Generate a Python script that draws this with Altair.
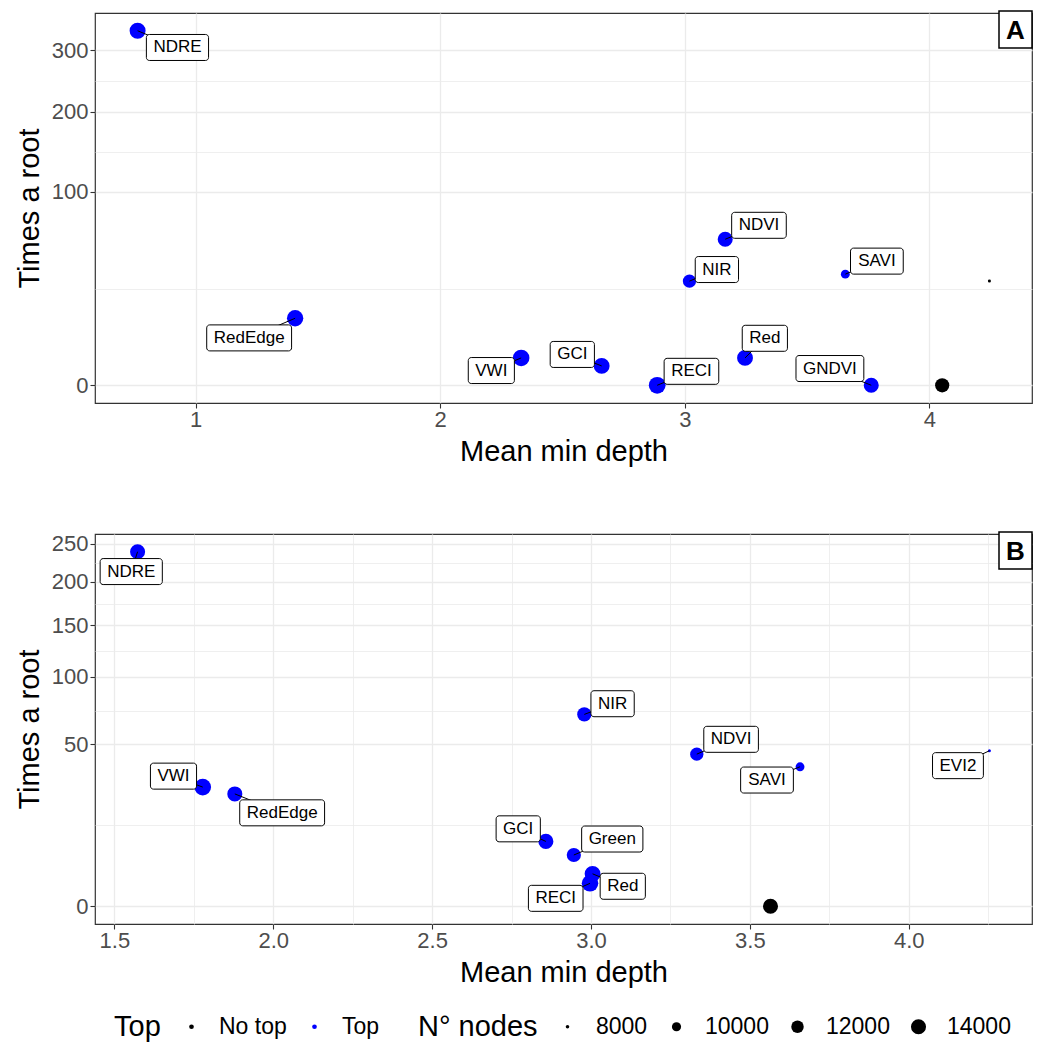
import math
import altair as alt
import pandas as pd

FONT = "Liberation Sans"

# ---------------- Panel A data ----------------
A_name = ["NDRE", "RedEdge", "VWI", "GCI", "RECI", "NIR", "NDVI", "Red", "SAVI", "GNDVI", "", ""]
A_depth = [0.763, 1.407, 2.331, 2.660, 2.887, 3.019, 3.165, 3.246, 3.656, 3.762, 4.052, 4.245]
A_root = [336, 12, 2, 1, 0, 29, 57, 2, 33, 0, 0, 29]
A_top = ["Top"] * 10 + ["No top"] * 2
A_nodes = [14800, 15100, 15300, 14700, 15500, 12600, 14000, 14700, 9850, 14000, 13300, 7900]
# label box centres (data units)
A_lab_x = [0.926, 1.219, 2.209, 2.540, 3.027, 3.131, 3.303, 3.327, 3.785, 3.593]
A_lab_y = [305, 6.0, 0.58, 2.54, 0.52, 35.8, 68.4, 5.9, 41.2, 0.75]

# ---------------- Panel B data ----------------
B_name = ["NDRE", "VWI", "RedEdge", "GCI", "Green", "NIR", "Red", "RECI", "NDVI", "SAVI", "EVI2", ""]
B_depth = [1.573, 1.778, 1.879, 2.858, 2.946, 2.979, 3.005, 2.997, 3.333, 3.658, 4.254, 3.565]
B_root = [239, 27, 24, 8, 5, 70, 2, 1, 44, 37, 46, 0]
B_top = ["Top"] * 11 + ["No top"]
B_nodes = [14000, 15500, 14000, 14000, 13300, 13300, 14700, 15300, 12600, 9850, 7900, 14000]
B_lab_x = [1.553, 1.686, 2.028, 2.771, 3.067, 3.068, 3.100, 2.889, 3.441, 3.554, 4.155]
B_lab_y = [213, 32.2, 16.6, 11.4, 8.6, 78, 0.76, 0.12, 53, 30.3, 37.6]

# axis breaks
A_xmajor = [1, 2, 3, 4]
A_ymajor = [0, 100, 200, 300]
B_xmajor = [1.5, 2.0, 2.5, 3.0, 3.5, 4.0]
B_ymajor = [0, 50, 100, 150, 200, 250]

size_breaks = [8000, 10000, 12000, 14000]

# Arial / Liberation Sans advance widths (1/1000 em) for box sizing
ADV = {'N': 722, 'D': 722, 'R': 722, 'E': 667, 'V': 667, 'I': 278, 'W': 944, 'G': 778,
       'C': 722, 'S': 667, 'A': 667, 'e': 556, 'd': 556, 'g': 556, 'r': 333, 'n': 556, '2': 556}
LAB_FS = 17


def text_w(s, fs=LAB_FS):
    return sum(ADV.get(c, 556) for c in s) * fs / 1000.0


def expand(lo, hi, f=0.05):
    r = hi - lo
    return [lo - f * r, hi + f * r]


def sqrt_expand(vals):
    s = [math.sqrt(v) for v in vals]
    lo, hi = expand(min(s), max(s))
    sq = lambda t: t * t if t >= 0 else -t * t
    return [sq(lo), sq(hi)]


def minor_breaks(major, lo, hi, tr=lambda v: v, inv=lambda v: v):
    t = [tr(v) for v in major]
    bd = t[1] - t[0]
    ext = [t[0] - bd] + t + [t[-1] + bd]
    mids = [(ext[i] + ext[i + 1]) / 2 for i in range(len(ext) - 1)]
    out = []
    for m in mids:
        if m < 0:
            continue
        v = inv(m)
        if lo <= v <= hi:
            out.append(round(v, 4))
    return out


def panel(names, depth, root, top, nodes, lx, ly, xmaj, ymaj, xfmt, letter):
    df = pd.DataFrame({"name": names, "depth": depth, "root": root, "top": top, "nodes": nodes})
    lab = df[df["name"] != ""].copy().reset_index(drop=True)
    lab["lx"] = lx
    lab["ly"] = ly
    lab["bw"] = [text_w(s) + 14 for s in lab["name"]]

    xdom = expand(min(depth), max(depth))
    ydom = sqrt_expand(root)
    xmin_ = minor_breaks(xmaj, xdom[0], xdom[1])
    ymin_ = minor_breaks(ymaj, ydom[0], ydom[1], math.sqrt, lambda t: t * t)

    def cond_axis(major, minor, fmt, title):
        test = "indexof(%s, datum.value) < 0" % str(list(major))
        return alt.Axis(
            values=sorted(major + minor),
            format=fmt,
            labelExpr="indexof(%s, datum.value) >= 0 ? datum.label : ''" % str(list(major)),
            tickOpacity={"condition": {"test": test, "value": 0}, "value": 1},
            gridWidth={"condition": {"test": test, "value": 0.8}, "value": 1.3},
            title=title,
            labelFlush=False,
            labelOverlap=False,
        )

    xs = alt.Scale(domain=xdom, nice=False, zero=False)
    ys = alt.Scale(type="sqrt", domain=ydom, nice=False, zero=False)

    x_axis = cond_axis(xmaj, xmin_, xfmt, "Mean min depth")
    y_axis = cond_axis(ymaj, ymin_, "d", "Times a root")

    color = alt.Color(
        "top:N",
        scale=alt.Scale(domain=["No top", "Top"], range=["black", "#0000FF"]),
        legend=alt.Legend(title="Top", orient="none", direction="horizontal", titleOrient="left",
                          legendX=19, legendY=1002, symbolSize=22, symbolType="circle",
                          labelOffset=16, columnPadding=16, titlePadding=19,
                          symbolStrokeWidth=0),
    )
    size = alt.Size(
        "nodes:Q",
        scale=alt.Scale(domain=[8000, 14000], range=[math.pi * 16 / 4, math.pi * 289 / 4], zero=False),
        legend=alt.Legend(title="N° nodes", orient="none", direction="horizontal", titleOrient="left",
                          legendX=323, legendY=1002, values=size_breaks, format="d", symbolType="circle",
                          symbolFillColor="black", symbolStrokeColor="black", symbolStrokeWidth=0,
                          labelOffset=17, columnPadding=17, titlePadding=18),
    )

    X = lambda f: alt.X(f, scale=xs, axis=x_axis)
    Y = lambda f: alt.Y(f, scale=ys, axis=y_axis)

    points = alt.Chart(df).mark_circle(opacity=1).encode(
        x=X("depth:Q"), y=Y("root:Q"), color=color, size=size,
    )
    rules = alt.Chart(lab).mark_rule(color="black", strokeWidth=1).encode(
        x=X("depth:Q"), y=Y("root:Q"), x2="lx:Q", y2="ly:Q",
    )
    boxes = alt.Chart(lab).mark_rect(
        fill="white", stroke="black", strokeWidth=1, cornerRadius=3, height=26,
        width={"expr": "datum.bw"},
    ).encode(x=X("lx:Q"), y=Y("ly:Q"))
    texts = alt.Chart(lab).mark_text(fontSize=LAB_FS, font=FONT, color="black", align="center",
                                     baseline="middle").encode(
        x=X("lx:Q"), y=Y("ly:Q"), text="name:N",
    )
    ldf = pd.DataFrame({"t": [letter]})
    lbox = alt.Chart(ldf).mark_rect(fill="white", stroke="black", strokeWidth=1.5).encode(
        x=alt.value(904), x2=alt.value(937), y=alt.value(-2), y2=alt.value(35)
    )
    ltext = alt.Chart(ldf).mark_text(fontSize=26, font=FONT, fontWeight="bold", color="black",
                                     align="center", baseline="middle").encode(
        x=alt.value(920.5), y=alt.value(17.5), text="t:N"
    )
    return alt.layer(points, rules, boxes, texts, lbox, ltext).properties(width=937, height=390)


pA = panel(A_name, A_depth, A_root, A_top, A_nodes, A_lab_x, A_lab_y, A_xmajor, A_ymajor, "d", "A")
pB = panel(B_name, B_depth, B_root, B_top, B_nodes, B_lab_x, B_lab_y, B_xmajor, B_ymajor, ".1f", "B")

chart = alt.vconcat(pA, pB, spacing=63).properties(
    padding={"left": 14, "top": 9, "right": 2, "bottom": 0},
    background="white",
).configure_view(
    stroke="#333333", strokeWidth=1.2
).configure_axis(
    gridColor="#EBEBEB", domain=False, tickColor="#333333", tickSize=5, tickWidth=1.1,
    labelColor="#4D4D4D", labelFontSize=22, labelFont=FONT, labelPadding=1,
    titleFontSize=29, titleFontWeight="normal", titleColor="black", titleFont=FONT,
).configure_axisX(titlePadding=7).configure_axisY(titlePadding=7, labelPadding=2).configure_legend(
    labelFont=FONT, labelFontSize=23, labelColor="black", titleFont=FONT, titleFontSize=29,
    titleFontWeight="normal", titleColor="black",
)

chart.save("out.html", embed_options={"renderer": "svg", "actions": False})
